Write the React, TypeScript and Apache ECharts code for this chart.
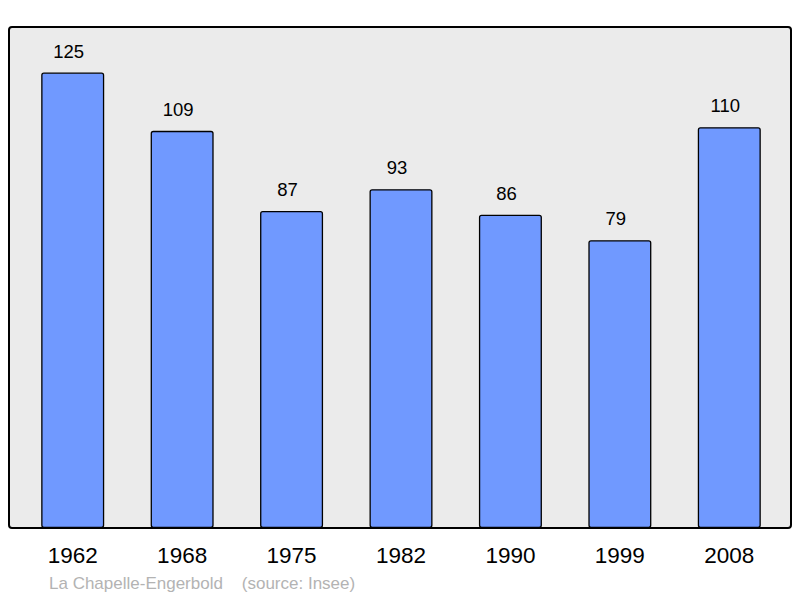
import React, { useEffect, useRef } from "react";
import * as echarts from "echarts";

const years = ["1962", "1968", "1975", "1982", "1990", "1999", "2008"];
const population = [125, 109, 87, 93, 86, 79, 110];
const footerText = "La Chapelle-Engerbold    (source: Insee)";

export default function App() {
  const ref = useRef<HTMLDivElement>(null);
  useEffect(() => {
    if (!ref.current) return;
    const chart = echarts.init(ref.current, undefined, { renderer: "svg" });
    chart.setOption({
      animation: false,
      backgroundColor: "#ffffff",
      textStyle: { fontFamily: "Liberation Sans, Arial, sans-serif" },
      graphic: [
        {
          type: "rect",
          z: -10,
          shape: { x: 9, y: 27, width: 782, height: 501, r: 3 },
          style: { fill: "#ebebeb", stroke: "#000000", lineWidth: 2 },
          silent: true,
        },
        {
          type: "text",
          left: 49,
          top: 575,
          style: {
            text: footerText,
            fill: "#b3b3b3",
            fontSize: 17,
            fontFamily: "Liberation Sans, Arial, sans-serif",
          },
        },
      ],
      grid: { left: 18, right: 16, top: 27, bottom: 70, containLabel: false },
      xAxis: {
        type: "category",
        data: years,
        axisLine: { show: false },
        axisTick: { show: false },
        axisLabel: {
          color: "#000000",
          fontSize: 22.5,
          margin: 16,
          fontFamily: "Liberation Sans, Arial, sans-serif",
        },
      },
      yAxis: {
        type: "value",
        min: 0,
        max: 137.5,
        show: false,
        splitLine: { show: false },
      },
      series: [
        {
          type: "bar",
          data: population,
          barWidth: 63,
          itemStyle: {
            color: "#7099ff",
            borderColor: "#000000",
            borderWidth: 1.3,
            borderRadius: 2,
          },
          label: {
            show: true,
            position: "top",
            distance: 12,
            offset: [-4, 0],
            color: "#000000",
            fontSize: 18.5,
            fontFamily: "Liberation Sans, Arial, sans-serif",
          },
        },
      ],
    });
    return () => chart.dispose();
  }, []);
  return (
    <div
      ref={ref}
      style={{ position: "fixed", left: 0, top: 0, width: 800, height: 598 }}
    />
  );
}
